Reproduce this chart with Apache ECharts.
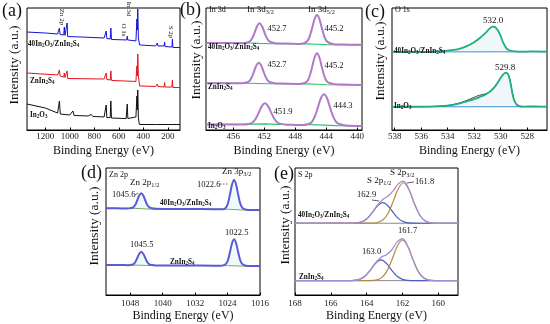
<!DOCTYPE html>
<html><head><meta charset="utf-8">
<script src="https://cdn.jsdelivr.net/npm/echarts@6/dist/echarts.min.js"></script>
<style>html,body{margin:0;padding:0;background:#fff}#c{width:550px;height:324px}</style>
</head><body><div id="c"></div>
<script>
// ---------- tick labels ----------
const aTicks = [200, 400, 600, 800, 1000, 1200];
const bTicks = [440, 444, 448, 452, 456];
const cTicks = [528, 530, 532, 534, 536, 538];
const dTicks = [1016, 1024, 1032, 1040, 1048];
const eTicks = [160, 162, 164, 166, 168];

// ---------- (a) survey spectra [BE, intensity] ----------
const aBlue = [[1350,80.3],[1200,79.5],[1100,78.7],[1090,79.1],[1085,83.6],[1080,78.3],[1050,77.9],[1045,84.4],[1040,77.5],[1025,77.0],[1022,87.7],[1018,76.6],[900,76.2],[720,75.4],[703,81.1],[698,75.0],[670,74.6],[665,83.6],[660,74.2],[535,73.8],[531,77.0],[527,73.8],[460,73.0],[452,91.0],[448,82.0],[445,99.2],[440,75.4],[430,69.7],[300,68.9],[285,71.3],[280,68.9],[230,68.9],[226,72.1],[222,68.4],[166,68.0],[162,74.6],[158,67.6],[100,67.6]];
const aRed = [[1350,46.7],[1100,45.1],[1090,45.1],[1085,49.2],[1080,44.3],[1050,43.4],[1045,46.7],[1040,43.0],[1025,42.6],[1022,48.4],[1018,42.2],[720,41.8],[703,46.7],[698,41.4],[670,41.0],[665,48.4],[660,40.6],[460,39.8],[452,52.5],[448,44.3],[445,62.3],[440,44.3],[430,36.1],[300,35.7],[285,37.7],[280,35.7],[230,35.2],[226,39.0],[222,35.2],[166,35.2],[162,41.0],[158,34.8],[100,34.8]];
const aBlack = [[1350,21.3],[1200,18.0],[1100,13.9],[1090,13.9],[1085,23.8],[1078,13.1],[1000,12.3],[975,15.6],[965,11.9],[850,11.5],[827,12.7],[810,11.1],[720,10.7],[703,20.5],[698,10.2],[670,10.2],[665,23.8],[660,9.8],[540,9.4],[531,21.3],[526,9.4],[460,10.7],[452,27.9],[448,16.4],[445,32.8],[440,9.8],[432,4.5],[300,4.5],[285,5.7],[280,4.5],[125,4.5],[120,5.7],[115,4.5],[100,4.5]];

// ---------- (b) In 3d ----------
const bTop = [[459.5,71.4],[457,71.3],[455,71.2],[454.8,71.2],[454.2,71.7],[453.8,73.0],[453.5,75.9],[453.2,80.5],[452.9,85.3],[452.6,87.4],[452.3,85.3],[452.0,80.5],[451.7,75.9],[451.4,73.0],[451.0,71.7],[450.4,71.0],[449,70.8],[448,70.6],[447.4,70.5],[446.8,71.3],[446.4,73.2],[446.1,77.5],[445.8,84.2],[445.5,91.2],[445.2,94.3],[444.9,91.2],[444.6,84.2],[444.3,77.5],[444.0,73.2],[443.6,71.3],[443.0,70.3],[442,70.0],[439.4,69.8]];
const bMid = [[459.5,38.4],[457,38.3],[455,38.3],[454.9,38.4],[454.3,38.9],[453.9,40.2],[453.6,43.3],[453.3,48.1],[453.0,53.0],[452.7,55.2],[452.4,53.0],[452.1,48.1],[451.8,43.3],[451.5,40.2],[451.1,38.9],[450.5,38.2],[449,38.0],[448,37.8],[447.4,37.8],[446.8,38.5],[446.4,40.5],[446.1,45.1],[445.8,52.2],[445.5,59.6],[445.2,62.9],[444.9,59.6],[444.6,52.2],[444.3,45.1],[444.0,40.5],[443.6,38.5],[443.0,37.6],[442,37.2],[439.4,36.9]];
const bBot = [[459.5,4.6],[457,4.6],[455,4.6],[454.7,4.6],[454.0,5.0],[453.5,6.2],[453.1,9.2],[452.7,14.2],[452.3,19.6],[451.9,21.9],[451.5,19.6],[451.1,14.2],[450.7,9.2],[450.3,6.2],[449.8,5.0],[449.1,4.4],[448,4.2],[447.1,4.0],[446.4,4.7],[445.9,6.4],[445.5,10.8],[445.1,18.1],[444.7,26.0],[444.3,29.3],[443.9,26.0],[443.5,18.1],[443.1,10.8],[442.7,6.4],[442.2,4.7],[441.5,3.7],[439.4,3.3]];
const bTopBg = [[459.5,71.4],[453.8,71.3],[452.6,71.0],[451.2,70.7],[446.4,70.6],[445.2,70.3],[444,70.0],[439.4,69.8]];
const bMidBg = [[459.5,38.4],[453.9,38.3],[452.7,38.1],[451.3,37.9],[446.4,37.8],[445.2,37.5],[444,37.1],[439.4,36.9]];
const bBotBg = [[459.5,4.7],[453.5,4.8],[451.9,5.0],[450.3,4.6],[445.9,4.4],[444.3,4.0],[442.7,3.6],[439.4,3.3]];

// ---------- (c) O 1s ----------
const cTop = [[538.2,64.0],[536,64.1],[535,64.3],[534.3,64.8],[533.7,65.5],[533.2,66.3],[532.6,68.5],[532.0,72.0],[531.5,76.0],[531.1,80.0],[530.8,83.5],[530.6,84.7],[530.4,84.2],[530.2,81.5],[530.0,77.0],[529.8,71.5],[529.6,67.5],[529.4,65.6],[529.1,64.6],[528.7,64.3],[528,64.3],[527.5,64.5],[526.5,64.2]];
const cBot = [[538.2,19.0],[536,19.1],[535,19.3],[534.2,19.8],[533.6,20.6],[533.0,22.0],[532.5,23.6],[532.0,25.3],[531.6,27.0],[531.2,28.8],[530.8,31.5],[530.4,36.0],[530.1,41.0],[529.85,45.0],[529.6,47.0],[529.45,46.0],[529.3,41.0],[529.15,32.5],[529.0,25.0],[528.8,21.0],[528.6,19.6],[528.3,19.2],[526.5,19.1]];
const cBotRaw = [[538.2,19.0],[536,19.1],[535,19.3],[534.2,19.8],[533.6,20.8],[533.0,22.5],[532.5,24.5],[532.0,26.8],[531.6,28.5],[531.2,29.5],[530.8,31.5],[530.4,36.0],[530.1,41.0],[529.85,45.0],[529.6,47.0],[529.45,46.0],[529.3,41.0],[529.15,32.5],[529.0,25.0],[528.8,21.0],[528.6,19.6],[528.3,19.2],[527.8,19.5],[526.5,19.1]];
const cTopBase = [[538.2,64.0],[526.5,64.1]];
const cBotBase = [[538.2,19.0],[526.5,19.1]];

// ---------- (d) Zn 2p ----------
const dTop = [[1054,68.3],[1050,68.2],[1048.8,68.2],[1048.0,68.4],[1047.3,69.0],[1046.8,70.8],[1046.3,74.4],[1045.8,78.3],[1045.3,80.1],[1044.8,78.3],[1044.3,74.4],[1043.8,70.8],[1043.3,69.0],[1042.6,68.3],[1041.8,67.9],[1035,67.7],[1027,67.6],[1025.9,67.5],[1025.1,67.55],[1024.4,68.8],[1023.9,72.3],[1023.4,79.3],[1022.9,87.0],[1022.4,90.5],[1021.9,87.0],[1021.4,79.3],[1020.9,72.3],[1020.4,68.8],[1019.7,67.4],[1018.9,67.0],[1016,66.9]];
const dBot = [[1054,23.6],[1050,23.6],[1048.8,23.5],[1048.0,23.7],[1047.3,24.2],[1046.8,25.8],[1046.3,29.0],[1045.8,32.5],[1045.3,34.1],[1044.8,32.5],[1044.3,29.0],[1043.8,25.8],[1043.3,24.2],[1042.6,23.6],[1041.8,23.3],[1035,23.2],[1027,23.1],[1025.9,23.0],[1025.1,23.3],[1024.4,24.5],[1023.9,27.6],[1023.4,33.9],[1022.9,40.8],[1022.4,43.9],[1021.9,40.8],[1021.4,33.9],[1020.9,27.6],[1020.4,24.5],[1019.7,23.2],[1018.9,22.9],[1016,22.8]];
const dTopBg = [[1054,68.3],[1046.8,68.2],[1045.3,68.0],[1043.8,67.7],[1041,67.6],[1024,67.5],[1022.4,67.3],[1020.9,67.0],[1016,66.9]];
const dBotBg = [[1054,23.6],[1046.8,23.5],[1045.3,23.4],[1043.8,23.2],[1041,23.2],[1024,23.1],[1022.4,23.0],[1020.9,22.8],[1016,22.8]];

// ---------- (e) S 2p ----------
const eTopEnv = [[168,56.5],[165.5,56.5],[165.0,56.5],[164.6,56.7],[164.3,57.5],[164.0,59.9],[163.7,64.7],[163.4,70.7],[163.1,75.2],[162.8,78.0],[162.5,82.4],[162.25,87.3],[161.95,89.7],[161.65,83.6],[161.35,72.5],[161.05,63.2],[160.75,58.5],[160.45,56.9],[160.1,56.5],[159.5,56.5],[158.9,56.5]];
const eTopA = [[168,56.5],[163.7,56.6],[163.4,57.1],[163.1,59.0],[162.8,64.4],[162.5,74.3],[162.25,83.3],[161.95,88.4],[161.65,83.3],[161.35,72.5],[161.05,63.2],[160.75,58.5],[160.45,56.9],[160.1,56.5],[158.9,56.5]];
const eTopB = [[168,56.5],[165.0,56.5],[164.6,56.7],[164.3,57.5],[164.0,59.9],[163.7,64.6],[163.4,70.1],[163.1,72.7],[162.8,70.1],[162.5,64.6],[162.25,60.5],[161.95,57.8],[161.65,56.8],[161.35,56.55],[161.05,56.5],[158.9,56.5]];
const eBotEnv = [[168,11.3],[165.5,11.3],[165.1,11.3],[164.7,11.5],[164.4,12.3],[164.1,14.7],[163.8,19.5],[163.5,25.4],[163.2,29.6],[162.9,31.75],[162.6,35.45],[162.3,41.6],[162.0,44.3],[161.7,38.4],[161.4,27.3],[161.1,18.05],[160.8,13.3],[160.5,11.7],[160.15,11.35],[159.5,11.3],[158.9,11.3]];
const eBotA = [[168,11.3],[163.8,11.36],[163.5,11.7],[163.2,13.3],[162.9,18.05],[162.6,27.3],[162.3,38.2],[162.0,43.3],[161.7,38.2],[161.4,27.3],[161.1,18.05],[160.8,13.3],[160.5,11.7],[160.15,11.35],[158.9,11.3]];
const eBotB = [[168,11.3],[165.1,11.3],[164.7,11.5],[164.4,12.3],[164.1,14.7],[163.8,19.45],[163.5,25.0],[163.2,27.6],[162.9,25.0],[162.6,19.45],[162.3,14.7],[162.0,12.3],[161.7,11.5],[161.4,11.3],[158.9,11.3]];
const eTopBase = [[168,56.5],[158.9,56.5]];
const eBotBase = [[168,11.3],[158.9,11.3]];

// ---------- layout ----------
const SERIF = '"Liberation Serif","Times New Roman",serif';
const grids = [
  {left:27, top:8, width:153, height:122},
  {left:206, top:8, width:156, height:122},
  {left:392, top:8, width:155, height:122},
  {left:106, top:168, width:154, height:127},
  {left:295, top:168, width:163, height:127}
];
const ranges = [[100,1350,aTicks],[439.4,459.5,bTicks],[526.5,538.2,cTicks],[1016,1054,dTicks],[158.9,168,eTicks]];

const xAxes = ranges.map((r,i)=>({
  type:'value', gridIndex:i, min:r[0], max:r[1], inverse:true,
  axisLine:{show:true, onZero:false, lineStyle:{color:'#000', width:1}},
  axisTick:{show:true, inside:true, length:2.5, customValues:r[2], lineStyle:{color:'#000'}},
  axisLabel:{customValues:r[2], formatter:v=>String(v), fontFamily:SERIF, fontSize:9, color:'#222', margin: i<3?2.5:4.5},
  splitLine:{show:false},
  name:'Binding Energy (eV)', nameLocation:'middle', nameGap: i<3?15:12,
  nameTextStyle:{fontFamily:SERIF, fontSize:12, color:'#111'}
}));
const yAxes = grids.map((g,i)=>({
  type:'value', gridIndex:i, min:0, max:100,
  axisLine:{show:false}, axisTick:{show:false}, axisLabel:{show:false}, splitLine:{show:false}
}));

function L(gi, data, color, width, extra){
  return Object.assign({type:'line', xAxisIndex:gi, yAxisIndex:gi, data:data, symbol:'none',
    lineStyle:{color:color, width:width}, animation:false, silent:true}, extra||{});
}
const SM = {smooth:0.35};
const series = [
  L(0,aBlack,'#111',1), L(0,aRed,'#e3141c',1), L(0,aBlue,'#1414d2',1),
  L(1,bTopBg,'#2cc46a',1.2), L(1,bMidBg,'#2cc46a',1.2), L(1,bBotBg,'#2cc46a',1.2),
  L(1,bTop,'#b07ac8',2,SM), L(1,bMid,'#b07ac8',2,SM), L(1,bBot,'#b07ac8',2,SM),
  L(2,cTopBase,'#3d8fd6',1), L(2,cBotBase,'#3d8fd6',1),
  L(2,cTop,'#1fae7f',1.8,Object.assign({areaStyle:{color:'rgba(150,195,230,0.2)', origin:64.0}},SM)),
  L(2,cBotRaw,'#444',1,SM),
  L(2,cBot,'#1fae7f',1.8,Object.assign({areaStyle:{color:'rgba(150,195,230,0.2)', origin:19.0}},SM)),
  L(3,dTopBg,'#7aa86a',1), L(3,dBotBg,'#7aa86a',1),
  L(3,dTop,'#5b5bd6',2,Object.assign({areaStyle:{color:'rgba(190,238,240,0.35)', origin:67.5}},SM)),
  L(3,dBot,'#5b5bd6',2,Object.assign({areaStyle:{color:'rgba(190,238,240,0.35)', origin:23.1}},SM)),
  L(4,eTopBase,'#8a8a8a',1), L(4,eBotBase,'#8a8a8a',1),
  L(4,eTopB,'#4d5fc4',1.2,SM), L(4,eBotB,'#4d5fc4',1.2,SM),
  L(4,eTopA,'#b48a46',1.2,SM), L(4,eBotA,'#b48a46',1.2,SM),
  L(4,eTopEnv,'#a58fd4',1.3,SM), L(4,eBotEnv,'#a58fd4',1.3,SM)
];

function T(x, y, text, size, o){
  o = o||{};
  const w = o.bold?'bold':'normal', c = o.color||'#111';
  return {type:'text', x:x, y:y, rotation:o.rot||0, z:100, silent:true,
    style:{text:text, fontSize:size, fontFamily:SERIF, fontWeight:w, fill:c,
      align:o.align||'left', verticalAlign:'middle',
      rich:{s:{fontSize:size*0.7, fontFamily:SERIF, fontWeight:w, fill:c, padding:[size*0.45,0,0,0]}}}};
}
function Ln(x1,y1,x2,y2,dash){
  return {type:'line', z:100, silent:true, shape:{x1:x1,y1:y1,x2:x2,y2:y2},
    style:{stroke:'#333', lineWidth:0.8, lineDash: dash?[1.5,1.5]:null}};
}
const S1 = '40In{s|2}O{s|3}/ZnIn{s|2}S{s|4}', S2 = 'ZnIn{s|2}S{s|4}', S3 = 'In{s|2}O{s|3}';
const R = -Math.PI/2, YR = Math.PI/2;
const graphic = [
  T(2,11,'(a)',18), T(180,10,'(b)',18), T(365,12.5,'(c)',18), T(81,173,'(d)',18), T(274,174,'(e)',18),
  T(14,65,'Intensity (a.u.)',13.5,{rot:YR,align:'center'}),
  T(196,60,'Intensity (a.u.)',13.5,{rot:YR,align:'center'}),
  T(380,61,'Intensity (a.u.)',13.5,{rot:YR,align:'center'}),
  T(94.5,226,'Intensity (a.u.)',13.5,{rot:YR,align:'center'}),
  T(285,225,'Intensity (a.u.)',13.5,{rot:YR,align:'center'}),
  // (a)
  T(62,17,'Zn 2p',7,{rot:R,align:'center'}), T(124,30,'O 1s',7,{rot:R,align:'center'}),
  T(129,9,'In 3d',7,{rot:R,align:'center'}), T(171,32,'S 2p',7,{rot:R,align:'center'}),
  T(28,44,S1,7.2,{bold:true}), T(30,81,S2,7.2,{bold:true}), T(30,115,S3,7.2,{bold:true}),
  // (b)
  T(209,10,'In 3d',8), T(247,10,'In 3d{s|3/2}',9), T(308,10,'In 3d{s|5/2}',9),
  T(277,29,'452.7',8.5,{align:'center'}), T(334,29,'445.2',8.5,{align:'center'}),
  T(277,65,'452.7',8.5,{align:'center'}), T(334,66,'445.2',8.5,{align:'center'}),
  T(283,112,'451.9',8.5,{align:'center'}), T(343,106,'444.3',8.5,{align:'center'}),
  T(208,47,S1,7.2,{bold:true}), T(208,87,S2,7.2,{bold:true}), T(208,126,S3,7.2,{bold:true}),
  // (c)
  T(395,10,'O 1s',8), T(493,21,'532.0',9,{align:'center'}), T(505,68,'529.8',9,{align:'center'}),
  T(394,51,S1,7.2,{bold:true}), T(394,106,S3,7.2,{bold:true}),
  // (d)
  T(109,175,'Zn 2p',8), T(130,183,'Zn 2p{s|1/2}',9), T(112,195,'1045.6',8.5),
  T(160,203,S1,7.2,{bold:true}), T(222,172,'Zn 3p{s|3/2}',9), T(197,185,'1022.6',8.5),
  T(130,245,'1045.5',8.5), T(170,262,S2,7.2,{bold:true}), T(225,233,'1022.5',8.5),
  Ln(135,195,138,193), Ln(220,184,228,184,true),
  // (e)
  T(298,175,'S 2p',8), T(390,173,'S 2p{s|3/2}',9), T(367,181,'S 2p{s|1/2}',9),
  T(415,182,'161.8',8.5), T(357,195,'162.9',8.5),
  T(298,215,S1,7.2,{bold:true}), T(398,231,'161.7',8.5), T(362,252,'163.0',8.5),
  T(299,277,S2,7.2,{bold:true}),
  Ln(407,183,414,182), Ln(372,200,379,201)
];

const chart = echarts.init(document.getElementById('c'), null, {renderer:'canvas'});
chart.setOption({
  animation:false, backgroundColor:'#fff',
  grid: grids.map(g=>Object.assign({show:true, borderColor:'#000', borderWidth:1, backgroundColor:'transparent', containLabel:false}, g)),
  xAxis:xAxes, yAxis:yAxes, series:series, graphic:graphic
});
</script></body></html>
